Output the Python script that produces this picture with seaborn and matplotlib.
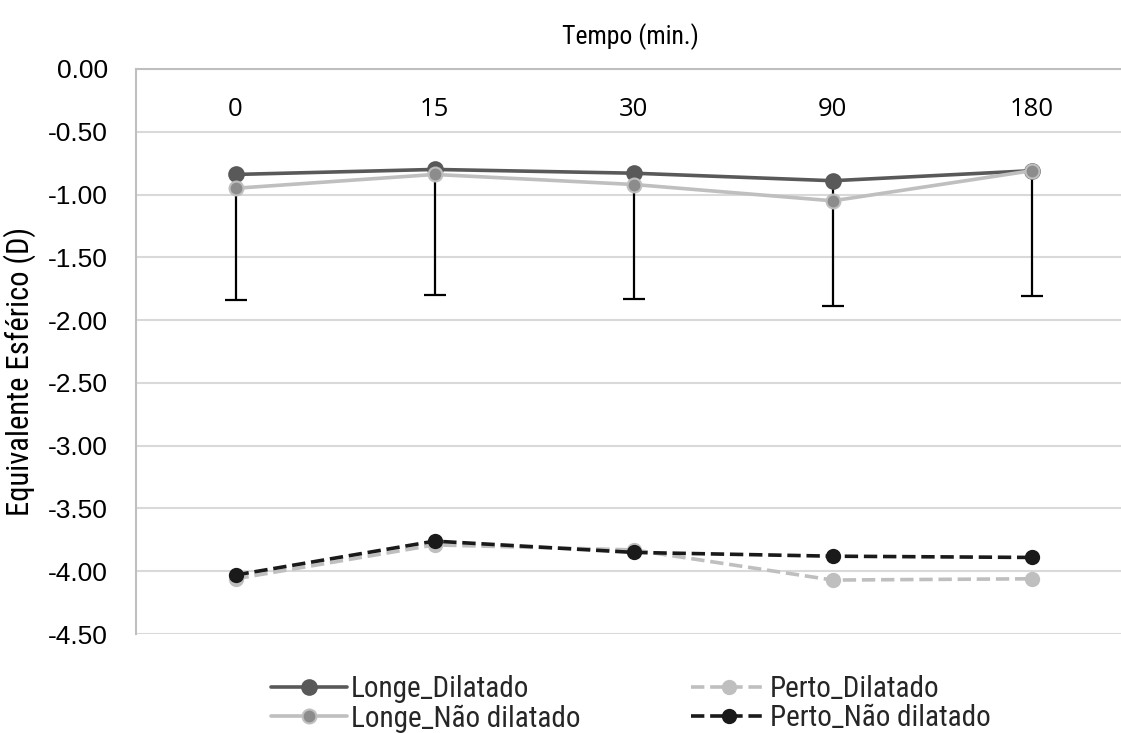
import matplotlib
matplotlib.use("Agg")
import matplotlib.pyplot as plt
import seaborn as sns
import pandas as pd
from matplotlib.lines import Line2D
from matplotlib.ticker import FormatStrFormatter

tempos = ["0", "15", "30", "90", "180"]
longe_dilatado = [-0.84, -0.80, -0.83, -0.89, -0.81]
longe_nao_dilatado = [-0.95, -0.84, -0.92, -1.05, -0.81]
perto_dilatado = [-4.06, -3.79, -3.83, -4.07, -4.06]
perto_nao_dilatado = [-4.03, -3.76, -3.85, -3.88, -3.89]
longe_dilatado_dp = [1.00, 1.00, 1.00, 1.00, 1.00]
yticks = [0.0, -0.5, -1.0, -1.5, -2.0, -2.5, -3.0, -3.5, -4.0, -4.5]

COND = ["Roboto Condensed", "PT Sans Narrow", "DejaVu Sans"]

sns.set_theme(style="white")
plt.rcParams["font.family"] = ["Liberation Sans", "DejaVu Sans"]

fig = plt.figure(figsize=(11.21, 7.33), dpi=100)
ax = fig.add_axes([0.1213, 0.135, 0.888, 0.7709])

df = pd.DataFrame({"Tempo": tempos})

series = [
    ("Longe_Dilatado", longe_dilatado, "#595959", "-", "#595959", "#595959", 10.5),
    ("Longe_Não dilatado", longe_nao_dilatado, "#bfbfbf", "-", "#8c8c8c", "#bfbfbf", 10),
    ("Perto_Dilatado", perto_dilatado, "#bfbfbf", "--", "#bfbfbf", "#bfbfbf", 9.5),
    ("Perto_Não dilatado", perto_nao_dilatado, "#1a1a1a", "--", "#1a1a1a", "#1a1a1a", 9.5),
]

# error bars (lower side only), beneath the markers
eb = ax.errorbar(tempos, longe_dilatado, yerr=[longe_dilatado_dp, [0] * len(tempos)],
                 fmt="none", ecolor="black", elinewidth=1.6, capsize=8, capthick=1.6, zorder=2)
if len(eb[1]) > 1:
    eb[1][1].set_visible(False)

handles = []
for name, vals, lc, ls, mfc, mec, ms in series:
    d = df.copy()
    d["v"] = vals
    sns.lineplot(data=d, x="Tempo", y="v", ax=ax, color=lc, linestyle=ls,
                 linewidth=2.6, marker="o", markersize=ms, markerfacecolor=mfc,
                 markeredgecolor=mec, markeredgewidth=1.5, sort=False, zorder=3)
    handles.append(Line2D([], [], color=lc, linestyle=ls, linewidth=2.6, marker="o",
                          markersize=ms, markerfacecolor=mfc, markeredgecolor=mec,
                          markeredgewidth=1.5, label=name))

ax.set_xlim(-0.5, 4.5)
ax.set_ylim(-4.5, 0.0)
ax.set_yticks(yticks)
ax.yaxis.set_major_formatter(FormatStrFormatter("%.2f"))
ax.grid(axis="y", color="#d9d9d9", linewidth=1.5)
ax.grid(axis="x", visible=False)
ax.set_axisbelow(True)

ax.xaxis.tick_top()
ax.xaxis.set_label_position("top")
ax.tick_params(axis="x", length=0, pad=-38, labelsize=19, labelcolor="black")
ax.tick_params(axis="y", length=0, pad=20, labelsize=19, labelcolor="black")
for lab in ax.get_xticklabels():
    lab.set_fontfamily(["Open Sans", "DejaVu Sans"])
    lab.set_fontsize(18.5)

for s in ["right", "bottom"]:
    ax.spines[s].set_visible(False)
for s in ["left", "top"]:
    ax.spines[s].set_color("#bfbfbf")
    ax.spines[s].set_linewidth(1.5)

ax.set_xlabel("Tempo (min.)", fontsize=18.5, color="black", family=COND)
ax.xaxis.set_label_coords(0.497, 1.045)
ax.set_ylabel("Equivalente Esférico (D)", fontsize=22, color="black", family=COND)
ax.yaxis.set_label_coords(-0.1, 0.464)

fig.legend(handles=handles, ncol=2, loc="center", bbox_to_anchor=(0.563, 0.040),
           frameon=False, prop={"family": COND, "size": 21}, handlelength=2.6,
           handletextpad=0.12, columnspacing=3.8, labelspacing=0.05, borderaxespad=0)

fig.savefig("out.png", dpi=100)
